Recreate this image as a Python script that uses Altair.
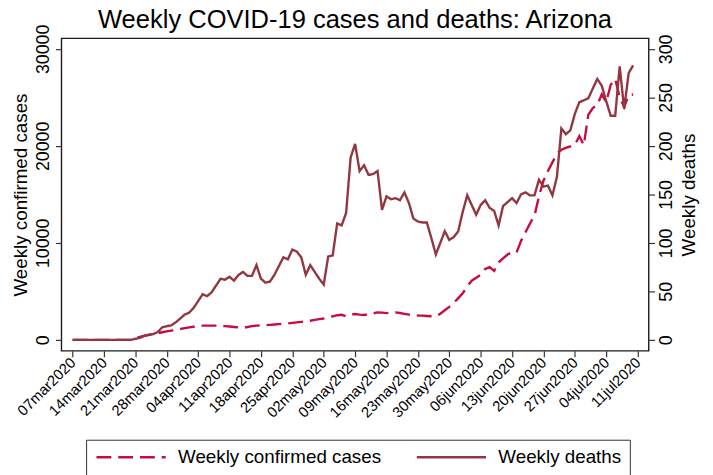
import altair as alt
import pandas as pd

# Daily values from 2020-03-07 to 2020-07-10 (126 days)
start_date = "2020-03-07"
cases = [
    0, 0, 0, 0, 0, 0, 0, 0, 0, 0, 0, 0, 0, 0,
    150, 300, 440, 520, 610, 690, 780, 870, 950, 1030,
    1120, 1200, 1280, 1350, 1420, 1460, 1470, 1470, 1460, 1440,
    1410, 1370, 1320, 1280, 1230, 1320, 1410, 1460, 1490, 1510,
    1540, 1580, 1620, 1660, 1700, 1750, 1800, 1850, 1900, 1970,
    2050, 2130, 2200, 2300, 2420, 2540, 2580, 2430, 2600, 2660,
    2600, 2560, 2640, 2730, 2830, 2800, 2760, 2800, 2830, 2770,
    2680, 2600, 2560, 2510, 2490, 2460, 2430, 2420, 2700, 3050,
    3400, 3800, 4300, 4800, 5500, 6100, 6400, 6700, 7300, 7500,
    7100, 8000, 8400, 8800, 9050, 9000, 10200, 11100, 12000, 12800,
    14800, 16400, 17400, 18300, 19200, 19600, 19800, 19950, 20100, 21000,
    20070, 23200, 23900, 24200, 25300, 24500, 26300, 26900, 25000, 24000,
    25200, 25300,
]
deaths = [
    0, 0, 0, 0, 0, 0, 0, 0, 0, 0, 0, 0, 0, 0,
    1, 2, 4, 5, 6, 8, 13, 14, 15, 18,
    22, 26, 28, 33, 40, 47, 45, 49, 56, 63,
    62, 65, 61, 67, 70, 66, 66, 77, 63, 59,
    60, 67, 76, 85, 83, 93, 91, 85, 67, 77,
    70, 63, 57, 86, 87, 120, 118, 131, 188, 202,
    174, 180, 170, 171, 174, 134, 148, 145, 146, 144,
    152, 141, 125, 122, 121, 121, 105, 88, 100, 112,
    103, 106, 112, 132, 149, 139, 129, 139, 144, 136,
    133, 118, 138, 142, 146, 141, 150, 152, 149, 149,
    165, 158, 159, 149, 168, 218, 212, 216, 233, 245,
    247, 249, 259, 269, 262, 246, 231, 231, 282, 238,
    275, 283,
]
series_names = ["Weekly confirmed cases", "Weekly deaths"]
series_colors = ["#C80C3F", "#923640"]
series_dashes = [[15, 7], [1, 0]]
left_ticks = [0, 10000, 20000, 30000]
right_ticks = [0, 50, 100, 150, 200, 250, 300]
tick_dates = list(pd.date_range("2020-03-07", "2020-07-11", freq="7D").strftime("%Y-%m-%d"))
chart_title = "Weekly COVID-19 cases and deaths: Arizona"

dates = pd.date_range(start_date, periods=len(cases), freq="D").strftime("%Y-%m-%d")
df_cases = pd.DataFrame({"date": list(dates), "value": cases, "series": series_names[0]})
df_deaths = pd.DataFrame({"date": list(dates), "value": deaths, "series": series_names[1]})

FONT = "Liberation Sans"


def dt(s, hours=0):
    y, m, d = (int(p) for p in s.split("-"))
    return alt.DateTime(year=y, month=m, date=d, hours=hours, utc=True)


x_enc = alt.X(
    "date:T",
    title=None,
    scale=alt.Scale(type="utc", domain=[dt("2020-03-04", 12), dt("2020-07-13", 11)]),
    axis=alt.Axis(
        values=[dt(s) for s in tick_dates],
        labelExpr="lower(utcFormat(datum.value, '%d%b%Y'))",
        labelAngle=315,
        labelAlign="right",
        labelBaseline="middle",
        labelFontSize=15,
        labelPadding=3,
        labelOverlap=False,
        labelFlush=False,
        tickSize=6,
    ),
)

legend = alt.Legend(
    title=None,
    orient="none",
    legendX=25,
    legendY=406,
    direction="horizontal",
    symbolType="M-1,0L9,0",
    symbolSize=196,
    symbolStrokeWidth=2.4,
    labelFontSize=19,
    labelFont=FONT,
    labelColor="#000000",
    labelOffset=66,
    labelLimit=400,
    columnPadding=30,
    padding=8,
    strokeColor="#333333",
    fillColor="#ffffff",
)

color_enc = alt.Color(
    "series:N", scale=alt.Scale(domain=series_names, range=series_colors), legend=legend
)
dash_enc = alt.StrokeDash(
    "series:N", scale=alt.Scale(domain=series_names, range=series_dashes), legend=legend
)

cases_line = alt.Chart(df_cases).mark_line(strokeWidth=2.4, clip=True).encode(
    x=x_enc,
    y=alt.Y(
        "value:Q",
        title="Weekly confirmed cases",
        scale=alt.Scale(domain=[-1125, 31085], nice=False, zero=False),
        axis=alt.Axis(
            orient="left",
            values=left_ticks,
            format="d",
            labelAngle=270,
            labelAlign="center",
            labelBaseline="bottom",
            labelPadding=3,
            labelFontSize=18,
            titleFontSize=19,
            titlePadding=4,
            tickSize=6,
        ),
    ),
    color=color_enc,
    strokeDash=dash_enc,
)

deaths_line = alt.Chart(df_deaths).mark_line(strokeWidth=2.4, clip=True).encode(
    x=x_enc,
    y=alt.Y(
        "value:Q",
        title="Weekly deaths",
        scale=alt.Scale(domain=[-11.25, 310.85], nice=False, zero=False),
        axis=alt.Axis(
            orient="right",
            values=right_ticks,
            format="d",
            labelAngle=270,
            labelAlign="center",
            labelBaseline="top",
            labelPadding=3,
            labelFontSize=18,
            titleFontSize=19,
            titleAngle=270,
            titleBaseline="top",
            titlePadding=4,
            tickSize=6,
        ),
    ),
    color=color_enc,
    strokeDash=dash_enc,
)

chart = (
    alt.layer(cases_line, deaths_line)
    .resolve_scale(y="independent")
    .properties(
        width=594,
        height=316,
        padding={"left": 54, "top": 28, "right": 57, "bottom": 123},
        autosize=alt.AutoSizeParams(type="none"),
        title=alt.TitleParams(
            chart_title,
            font=FONT,
            fontSize=25.8,
            fontWeight="normal",
            color="#000000",
            anchor="middle",
            frame="group",
            offset=-10,
        ),
    )
    .configure(background="#ffffff")
    .configure_view(stroke="#1a1a1a", strokeWidth=1.4)
    .configure_axis(
        domain=False,
        grid=False,
        tickColor="#333333",
        tickWidth=1.2,
        labelFont=FONT,
        titleFont=FONT,
        labelColor="#000000",
        titleColor="#000000",
        titleFontWeight="normal",
    )
)

chart.save("out.html", embed_options={"renderer": "svg", "actions": False})
